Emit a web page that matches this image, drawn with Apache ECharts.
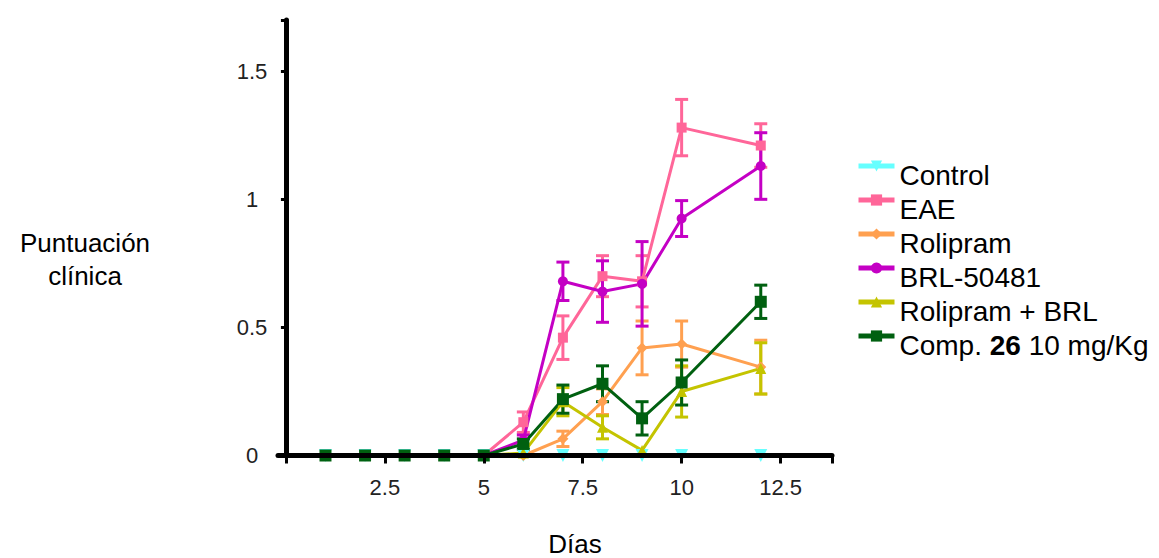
<!DOCTYPE html>
<html>
<head>
<meta charset="utf-8">
<title>Puntuación clínica</title>
<script src="https://cdn.jsdelivr.net/npm/echarts@6/dist/echarts.min.js"></script>
<style>
  html, body { margin: 0; padding: 0; background: #fff; }
  #main { width: 1159px; height: 558px; }
</style>
</head>
<body>
<div id="main"></div>
<script>
// datos
var days = [1, 2, 3, 4, 5, 6, 7, 8, 9, 10, 12];
var xTicks = [0, 2.5, 5, 7.5, 10, 12.5, 13.8];
var xLabels = [2.5, 5, 7.5, 10, 12.5];
var yTicks = [0, 0.5, 1, 1.5, 1.7];
var yLabels = [0, 0.5, 1, 1.5];

var control = [0, 0, 0, 0, 0, 0, 0, 0, 0, 0, 0];
var eae = [0, 0, 0, 0, 0, 0.13, 0.46, 0.70, 0.68, 1.28, 1.21];
var eaeErr = [0, 0, 0, 0, 0, 0.04, 0.085, 0.08, 0.1, 0.11, 0.085];
var rolipram = [0, 0, 0, 0, 0, 0, 0.065, 0.21, 0.42, 0.435, 0.345];
var rolipramErr = [0, 0, 0, 0, 0, 0, 0.03, 0.05, 0.105, 0.09, 0.105];
var brl = [0, 0, 0, 0, 0, 0.06, 0.68, 0.64, 0.67, 0.925, 1.13];
var brlErr = [0, 0, 0, 0, 0, 0.02, 0.075, 0.12, 0.165, 0.07, 0.13];
var rolBrl = [0, 0, 0, 0, 0, 0.01, 0.21, 0.11, 0.02, 0.25, 0.34];
var rolBrlErr = [0, 0, 0, 0, 0, 0, 0.055, 0.045, 0, 0.1, 0.1];
var comp26 = [0, 0, 0, 0, 0, 0.045, 0.22, 0.28, 0.145, 0.285, 0.60];
var comp26Err = [0, 0, 0, 0, 0, 0.02, 0.055, 0.07, 0.065, 0.088, 0.065];

var names = ['Control', 'EAE', 'Rolipram', 'BRL-50481', 'Rolipram + BRL', 'Comp. 26 10 mg/Kg'];
var groups = [
  { vals: control, err: null, color: '#66ffff', symbol: 'triangle', size: 13, rotate: 180 },
  { vals: eae, err: eaeErr, color: '#ff6699', symbol: 'rect', size: 10, rotate: 0 },
  { vals: rolipram, err: rolipramErr, color: '#ffa050', symbol: 'diamond', size: 11, rotate: 0 },
  { vals: brl, err: brlErr, color: '#c400c4', symbol: 'circle', size: 10, rotate: 0 },
  { vals: rolBrl, err: rolBrlErr, color: '#c4c400', symbol: 'triangle', size: 11, rotate: 0 },
  { vals: comp26, err: comp26Err, color: '#006010', symbol: 'rect', size: 12, rotate: 0 }
];

var font = 'Liberation Sans, Arial, sans-serif';

function errorBars(params, api) {
  var x = api.value(0);
  var lo = api.coord([x, api.value(1)]);
  var hi = api.coord([x, api.value(2)]);
  var w = 6.5;
  var style = { stroke: api.visual('color'), lineWidth: 3 };
  return {
    type: 'group',
    children: [
      { type: 'line', shape: { x1: lo[0], y1: lo[1], x2: hi[0], y2: hi[1] }, style: style },
      { type: 'line', shape: { x1: hi[0] - w, y1: hi[1], x2: hi[0] + w, y2: hi[1] }, style: style },
      { type: 'line', shape: { x1: lo[0] - w, y1: lo[1], x2: lo[0] + w, y2: lo[1] }, style: style }
    ]
  };
}

var series = [];
groups.forEach(function (g, k) {
  if (g.err) {
    var ed = [];
    days.forEach(function (d, i) {
      if (g.err[i] > 0) ed.push([d, g.vals[i] - g.err[i], g.vals[i] + g.err[i]]);
    });
    series.push({
      name: names[k] + ' err',
      type: 'custom',
      renderItem: errorBars,
      itemStyle: { color: g.color },
      encode: { x: 0, y: [1, 2] },
      data: ed
    });
  }
  series.push({
    name: names[k],
    type: 'line',
    data: days.map(function (d, i) { return [d, g.vals[i]]; }),
    symbol: g.symbol,
    symbolSize: g.size,
    symbolRotate: g.rotate,
    showAllSymbol: true,
    color: g.color,
    lineStyle: { width: 3, color: g.color },
    itemStyle: { color: g.color }
  });
});

var chart = echarts.init(document.getElementById('main'), null, { renderer: 'svg' });
chart.setOption({
  animation: false,
  backgroundColor: '#fff',
  grid: { left: 278, right: 327, top: 20, bottom: 102.5 },
  legend: {
    data: names,
    orient: 'vertical',
    left: 856,
    top: 143,
    padding: 0,
    itemGap: -12,
    itemWidth: 36,
    itemHeight: 14,
    lineStyle: { width: 5 },
    // linea vacia delante: el texto queda algo por debajo del icono, como en el original
    formatter: function (n) {
      return n === 'Comp. 26 10 mg/Kg' ? '\nComp. {b|26} 10 mg/Kg' : '\n' + n;
    },
    textStyle: {
      fontFamily: font,
      fontSize: 28,
      color: '#000',
      lineHeight: 18,
      rich: {
        b: { fontFamily: font, fontSize: 28, fontWeight: 'bold', color: '#000', lineHeight: 18 }
      }
    }
  },
  xAxis: {
    type: 'value',
    min: -0.2,
    max: 13.8,
    z: 5,
    splitLine: { show: false },
    axisLine: { show: true, lineStyle: { color: '#000', width: 5 } },
    axisTick: { show: true, customValues: xTicks, length: 8, lineStyle: { color: '#000', width: 3 } },
    axisLabel: { customValues: xLabels, margin: 21, fontFamily: font, fontSize: 22, color: '#222' }
  },
  yAxis: {
    type: 'value',
    min: 0,
    max: 1.7,
    z: 5,
    splitLine: { show: false },
    axisLine: { show: true, onZero: true, lineStyle: { color: '#000', width: 5 } },
    axisTick: { show: true, customValues: yTicks, length: 5, lineStyle: { color: '#000', width: 3 } },
    axisLabel: { customValues: yLabels, margin: 26, align: 'center', fontFamily: font, fontSize: 22, color: '#222' }
  },
  graphic: [
    {
      type: 'text', x: 85, y: 259,
      style: {
        text: 'Puntuación\nclínica', fontFamily: font, fontSize: 26, lineHeight: 33,
        fill: '#000', align: 'center', verticalAlign: 'middle'
      }
    },
    {
      type: 'text', x: 575, y: 544,
      style: {
        text: 'Días', fontFamily: font, fontSize: 26,
        fill: '#000', align: 'center', verticalAlign: 'middle'
      }
    }
  ],
  series: series
});
</script>
</body>
</html>
